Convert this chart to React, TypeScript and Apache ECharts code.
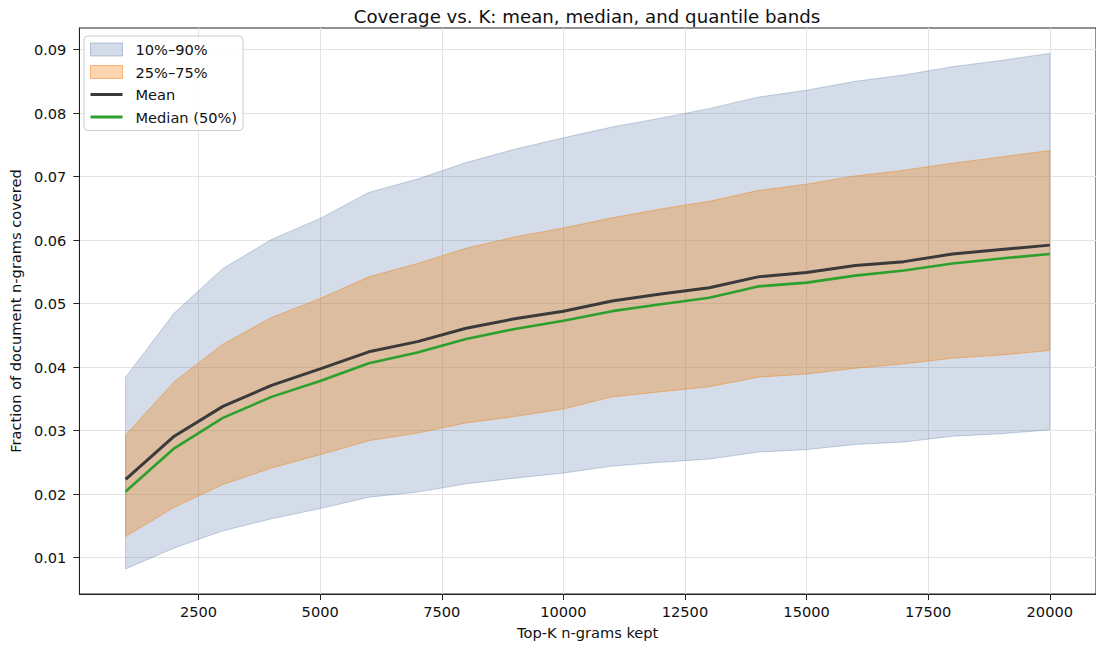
import React, { useEffect, useRef } from "react";
import * as echarts from "echarts";

const kValues = [1000, 2000, 3000, 4000, 5000, 6000, 7000, 8000, 9000, 10000, 11000, 12000, 13000, 14000, 15000, 16000, 17000, 18000, 19000, 20000];
const meanVals = [0.0223, 0.0291, 0.0338, 0.0371, 0.0397, 0.0424, 0.0440, 0.0461, 0.0476, 0.0488, 0.0504, 0.0515, 0.0525, 0.0542, 0.0549, 0.0560, 0.0566, 0.0578, 0.0585, 0.0592];
const medianVals = [0.0204, 0.0272, 0.0320, 0.0353, 0.0378, 0.0406, 0.0423, 0.0444, 0.0460, 0.0473, 0.0488, 0.0499, 0.0509, 0.0527, 0.0533, 0.0544, 0.0552, 0.0563, 0.0571, 0.0578];
const p10 = [0.0082, 0.0115, 0.0142, 0.0161, 0.0177, 0.0195, 0.0203, 0.0216, 0.0225, 0.0233, 0.0244, 0.0250, 0.0255, 0.0266, 0.0270, 0.0278, 0.0282, 0.0291, 0.0295, 0.0301];
const p90 = [0.0384, 0.0485, 0.0555, 0.0601, 0.0634, 0.0675, 0.0696, 0.0722, 0.0743, 0.0761, 0.0778, 0.0792, 0.0807, 0.0825, 0.0836, 0.0850, 0.0860, 0.0873, 0.0883, 0.0894];
const p25 = [0.0133, 0.0179, 0.0215, 0.0241, 0.0262, 0.0284, 0.0296, 0.0312, 0.0322, 0.0334, 0.0353, 0.0361, 0.0369, 0.0384, 0.0389, 0.0398, 0.0405, 0.0414, 0.0419, 0.0426];
const p75 = [0.0293, 0.0377, 0.0436, 0.0478, 0.0508, 0.0542, 0.0563, 0.0587, 0.0605, 0.0619, 0.0635, 0.0649, 0.0661, 0.0678, 0.0688, 0.0701, 0.0710, 0.0721, 0.0731, 0.0741];
const xTicks = [2500, 5000, 7500, 10000, 12500, 15000, 17500, 20000];
const yTicks = [0.01, 0.02, 0.03, 0.04, 0.05, 0.06, 0.07, 0.08, 0.09];

const FONT = "DejaVu Sans";
const FS = 14.6;
const BLUE_FILL = "rgba(70,110,160,0.24)";
const BLUE_EDGE = "rgba(70,110,160,0.3)";
const ORANGE_FILL = "rgba(240,128,14,0.33)";
const ORANGE_EDGE = "rgba(240,128,14,0.45)";
const LINE_ICON = "path://M0,0 L32,0 L32,3 L0,3 Z";

function bandSeries(name: string, lo: number[], hi: number[], fill: string, edge: string, z: number) {
  return {
    name,
    type: "custom",
    data: [[kValues[0], lo[0]]],
    z,
    itemStyle: { color: fill },
    renderItem: (_params: any, api: any) => {
      const upper = kValues.map((k, i) => api.coord([k, hi[i]]));
      const lower = kValues.map((k, i) => api.coord([k, lo[i]])).reverse();
      return {
        type: "polygon",
        shape: { points: upper.concat(lower) },
        style: { fill, stroke: edge, lineWidth: 1 },
        silent: true,
      };
    },
  };
}

export default function App() {
  const ref = useRef<HTMLDivElement>(null);
  useEffect(() => {
    if (!ref.current) return;
    const chart = echarts.init(ref.current, null, { renderer: "svg" });
    const pair = (arr: number[]) => kValues.map((k, i) => [k, arr[i]]);
    chart.setOption({
      animation: false,
      title: {
        text: "Coverage vs. K: mean, median, and quantile bands",
        left: 582,
        textAlign: "center",
        top: 2,
        textStyle: { fontFamily: FONT, fontSize: 18.2, fontWeight: "normal", color: "#111" },
      },
      grid: { left: 77, right: -2, top: 28, bottom: 49, show: true, borderColor: "#222", borderWidth: 1, backgroundColor: "transparent" },
      legend: {
        orient: "vertical",
        left: 84,
        top: 36,
        padding: [6, 6, 6, 6],
        itemGap: 7.5,
        itemWidth: 32,
        itemHeight: 13,
        borderColor: "#ccc",
        borderWidth: 1,
        borderRadius: 4,
        backgroundColor: "rgba(255,255,255,0.85)",
        textStyle: { fontFamily: FONT, fontSize: FS, color: "#111", padding: [0, 0, 0, 8] },
        data: [
          { name: "10%–90%", icon: "rect", itemStyle: { color: BLUE_FILL, borderColor: "rgba(70,110,160,0.35)", borderWidth: 1 } },
          { name: "25%–75%", icon: "rect", itemStyle: { color: ORANGE_FILL, borderColor: "rgba(240,128,14,0.5)", borderWidth: 1 } },
          { name: "Mean", icon: LINE_ICON, itemStyle: { color: "#3a3a3a", borderWidth: 0 } },
          { name: "Median (50%)", icon: LINE_ICON, itemStyle: { color: "#2ca02c", borderWidth: 0 } },
        ],
      },
      xAxis: {
        type: "value",
        min: 50,
        max: 20950,
        name: "Top-K n-grams kept",
        nameLocation: "middle",
        nameGap: 31,
        nameTextStyle: { fontFamily: FONT, fontSize: FS, color: "#111" },
        axisLine: { show: true, lineStyle: { color: "#222" } },
        axisTick: { show: true, length: 6, customValues: xTicks, lineStyle: { color: "#222" } },
        axisLabel: {
          customValues: xTicks,
          fontFamily: FONT,
          fontSize: FS,
          color: "#111",
          margin: 10,
          formatter: (v: number) => String(v),
        },
        splitLine: { show: true, lineStyle: { color: "#e3e3e3", width: 1 } },
      },
      yAxis: {
        type: "value",
        min: 0.00425,
        max: 0.0934,
        name: "Fraction of document n-grams covered",
        nameLocation: "middle",
        nameGap: 55,
        nameTextStyle: { fontFamily: FONT, fontSize: FS, color: "#111" },
        axisLine: { show: true, lineStyle: { color: "#222" } },
        axisTick: { show: true, length: 6, customValues: yTicks, lineStyle: { color: "#222" } },
        axisLabel: {
          customValues: yTicks,
          fontFamily: FONT,
          fontSize: FS,
          color: "#111",
          margin: 13,
          formatter: (v: number) => v.toFixed(2),
        },
        splitLine: { show: true, lineStyle: { color: "#e3e3e3", width: 1 } },
      },
      series: [
        bandSeries("10%–90%", p10, p90, BLUE_FILL, BLUE_EDGE, 1),
        bandSeries("25%–75%", p25, p75, ORANGE_FILL, ORANGE_EDGE, 2),
        {
          name: "Mean",
          type: "line",
          data: pair(meanVals),
          symbol: "none",
          lineStyle: { color: "#3a3a3a", width: 3 },
          itemStyle: { color: "#3a3a3a" },
          z: 4,
        },
        {
          name: "Median (50%)",
          type: "line",
          data: pair(medianVals),
          symbol: "none",
          lineStyle: { color: "#2ca02c", width: 2.6 },
          itemStyle: { color: "#2ca02c" },
          z: 5,
        },
      ],
    });
    return () => chart.dispose();
  }, []);
  return <div ref={ref} style={{ width: 1096, height: 645, position: "absolute", left: 0, top: 0, background: "#fff" }} />;
}
